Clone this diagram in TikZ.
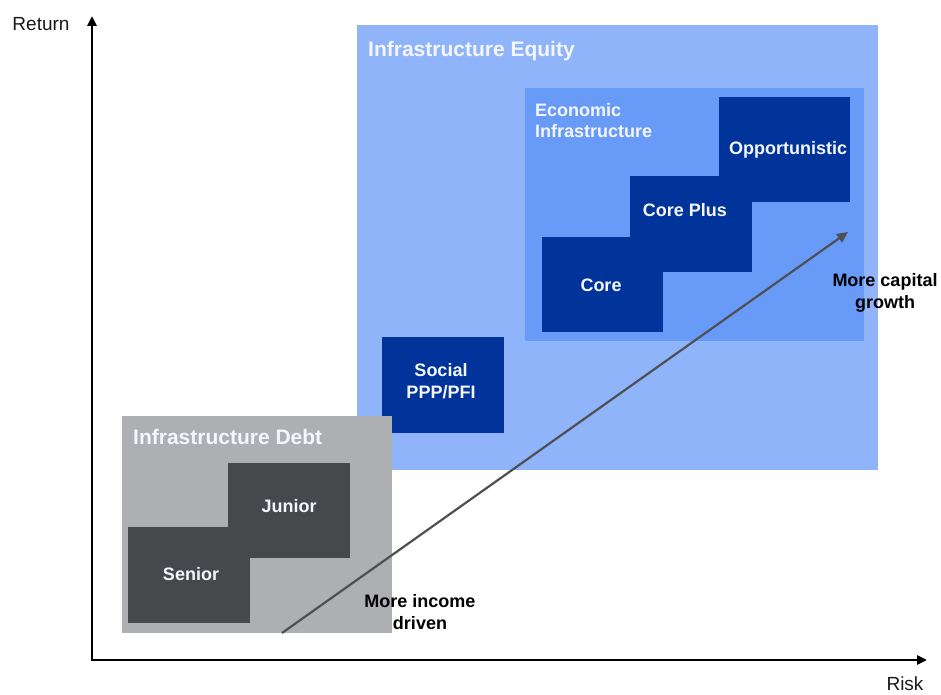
\documentclass[tikz,border=0pt]{standalone}
\usepackage{fontspec}
\setmainfont{Liberation Sans}
\usetikzlibrary{arrows.meta}

\definecolor{equityblue}{RGB}{143,180,250}
\definecolor{econblue}{RGB}{104,154,248}
\definecolor{stepblue}{RGB}{0,52,155}
\definecolor{debtgray}{RGB}{174,175,178}
\definecolor{stepgray}{RGB}{70,72,76}
\definecolor{trendgray}{RGB}{78,80,84}
\definecolor{softwhite}{RGB}{244,246,252}

\tikzset{
  panel/.style={anchor=north west, inner sep=0pt, outer sep=0pt},
  blockfill/.style={panel, fill=#1},
  title/.style={anchor=west, inner sep=0pt, text=softwhite, font=\bfseries\fontsize{21}{24}\selectfont},
  inlabel/.style={inner sep=0pt, text=softwhite, align=center, font=\bfseries\fontsize{18}{22}\selectfont},
  note/.style={inner sep=0pt, text=black, align=center, font=\bfseries\fontsize{18}{22}\selectfont},
  axislabel/.style={inner sep=0pt, text=black!90, font=\fontsize{19}{22}\selectfont},
  axis/.style={line width=2.6pt, -{Triangle[length=10pt,width=9pt]}},
  trend/.style={line width=2.2pt, draw=trendgray, -{Triangle[length=11pt,width=10pt]}}
}

\begin{document}
\begin{tikzpicture}[x=1pt, y=-1pt]
  \useasboundingbox (0,0) rectangle (941,695);

  % equity region
  \node[blockfill=equityblue, minimum width=521pt, minimum height=445pt] (equity) at (357,25) {};
  \node[title] (equitytitle) at (368,51) {Infrastructure Equity};

  % economic infrastructure sub-region
  \node[blockfill=econblue, minimum width=339pt, minimum height=253pt] (econ) at (525,88) {};
  \node[title, font=\bfseries\fontsize{18}{21}\selectfont, align=left, anchor=north west] (econtitle) at (535,103) {Economic\\Infrastructure};

  % staircase of economic strategies
  \node[blockfill=stepblue, minimum width=121pt, minimum height=95pt] (core) at (542,237) {};
  \node[blockfill=stepblue, minimum width=122pt, minimum height=96pt] (coreplus) at (630,176) {};
  \node[blockfill=stepblue, minimum width=131pt, minimum height=105pt] (opp) at (719,97) {};
  \node[inlabel] (coretext) at (601,285) {Core};
  \node[inlabel] (coreplustext) at (685,210) {Core Plus};
  \node[inlabel] (opptext) at (788,150) {Opportunistic};

  % social infrastructure
  \node[blockfill=stepblue, minimum width=122pt, minimum height=96pt] (social) at (382,337) {};
  \node[inlabel] (socialtext) at (441,381) {Social\\PPP/PFI};

  % debt region
  \node[blockfill=debtgray, minimum width=270pt, minimum height=217pt] (debt) at (122,416) {};
  \node[title] (debttitle) at (133,437) {Infrastructure Debt};
  \node[blockfill=stepgray, minimum width=122pt, minimum height=95pt] (junior) at (228,463) {};
  \node[blockfill=stepgray, minimum width=122pt, minimum height=96pt] (senior) at (128,527) {};
  \node[inlabel] (juniortext) at (289,506) {Junior};
  \node[inlabel] (seniortext) at (191,574) {Senior};

  % risk/return trend
  \coordinate (trendstart) at (282,633);
  \coordinate (trendend) at (848,232);
  \draw[trend] (trendstart) -- (trendend);
  \node[note] (incometext) at (420,612) {More income\\driven};
  \node[note] (growthtext) at (885,293) {More capital\\growth};

  % axes
  \coordinate (origin) at (92,660);
  \coordinate (ytip) at (92,16);
  \coordinate (xtip) at (927,660);
  \draw[axis] (origin) -- (ytip);
  \draw[axis] ([xshift=-1.3pt]origin) -- (xtip);
  \node[axislabel] (returnlabel) at (41,24) {Return};
  \node[axislabel] (risklabel) at (905,684) {Risk};
\end{tikzpicture}
\end{document}
